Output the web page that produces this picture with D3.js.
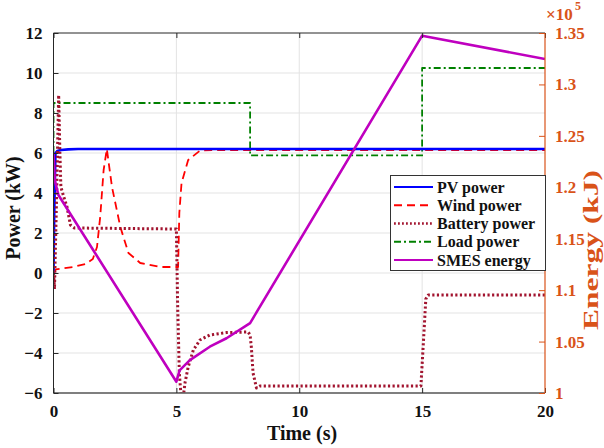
<!DOCTYPE html>
<html>
<head>
<meta charset="utf-8">
<script src="https://cdn.jsdelivr.net/npm/d3@7"></script>
<style>
  html, body { margin: 0; padding: 0; background: #fff; }
  svg text { font-family: "Liberation Serif", "Times New Roman", serif; font-weight: bold; }
</style>
</head>
<body>
<svg id="chart" width="604" height="448"></svg>
<script>
// ---- Data ----
const xTicks = [0, 5, 10, 15, 20];
const yTicksLeft = [-6, -4, -2, 0, 2, 4, 6, 8, 10, 12];
const yTicksRight = [1, 1.05, 1.1, 1.15, 1.2, 1.25, 1.3, 1.35];
const rightTickLabels = ["1", "1.05", "1.1", "1.15", "1.2", "1.25", "1.3", "1.35"];

const pvTime  = [0, 0.03, 0.08, 0.15, 0.3, 0.6, 1.0, 20];
const pvPower = [0, 3.0, 6.0, 6.1, 6.15, 6.18, 6.2, 6.2];

const windTime  = [0, 0.05, 0.1, 0.8, 1.3, 1.6, 1.77, 1.9, 2.04, 2.17, 2.38, 2.72, 3.05, 3.53, 4.34, 5.0, 5.07, 5.12, 5.21, 5.48, 5.96, 6.5, 20];
const windPower = [0, 0.1, 0.18, 0.3, 0.45, 0.7, 1.3, 2.8, 5.15, 6.2, 4.3, 2.3, 1.0, 0.5, 0.3, 0.3, 0.3, 3.0, 4.5, 5.65, 6.12, 6.15, 6.15];

const batTime  = [0, 0.04, 0.12, 0.21, 0.26, 0.3, 0.42, 0.55, 0.69, 0.85, 5.0, 5.05, 5.12, 5.2, 5.28, 5.35, 5.48, 5.69, 5.96, 6.36, 7.04, 7.92, 8.0, 8.05, 8.12, 8.26, 8.4, 14.95, 15.05, 15.15, 15.25, 20];
const batPower = [0, -0.8, 3.5, 8.9, 6.0, 4.3, 3.8, 3.3, 2.4, 2.25, 2.2, -1.5, -5.0, -6.3, -6.2, -5.5, -4.7, -3.85, -3.35, -3.1, -2.98, -2.95, -3.1, -3.7, -5.0, -5.75, -5.65, -5.65, -3.5, -1.3, -1.1, -1.1];

const loadTime  = [0, 0, 8, 8, 15, 15, 20];
const loadPower = [0, 8.5, 8.5, 5.88, 5.88, 10.25, 10.25];

const smesTime   = [0, 0.05, 0.2, 5.0, 5.13, 5.55, 6.36, 7.04, 8.0, 15.0, 20];
const smesEnergy = [1.233, 1.207, 1.1925, 1.011, 1.022, 1.032, 1.045, 1.0532, 1.068, 1.3474, 1.3247]; // x 10^5 kJ

const seriesNames = ["PV power", "Wind power", "Battery power", "Load power", "SMES energy"];

// ---- Layout ----
const svg = d3.select("#chart");
const L = 53.5, R = 545, T = 33, B = 393;
const x = d3.scaleLinear().domain([0, 20]).range([L, R]);
const yL = d3.scaleLinear().domain([-6, 12]).range([B, T]);
const yR = d3.scaleLinear().domain([1, 1.35]).range([B, T]);

const axisCol = "#262626";
const orange = "#d95319";

// grid
const grid = svg.append("g");
grid.selectAll("line.gx").data(xTicks.slice(1, -1)).join("line")
  .attr("x1", d => x(d)).attr("x2", d => x(d)).attr("y1", T).attr("y2", B)
  .attr("stroke", "#e3e3e3").attr("stroke-width", 1);
grid.selectAll("line.gy").data(yTicksLeft.slice(1, -1)).join("line")
  .attr("x1", L).attr("x2", R).attr("y1", d => yL(d)).attr("y2", d => yL(d))
  .attr("stroke", "#e3e3e3").attr("stroke-width", 1);

// clip
svg.append("clipPath").attr("id", "clip").append("rect")
  .attr("x", L).attr("y", T).attr("width", R - L).attr("height", B - T);

const plot = svg.append("g").attr("clip-path", "url(#clip)");
const mk = (ts, vs) => ts.map((t, i) => [t, vs[i]]);
const lineL = d3.line().x(d => x(d[0])).y(d => yL(d[1]));
const lineR = d3.line().x(d => x(d[0])).y(d => yR(d[1]));

const styles = {
  "PV power":      { color: "#0000ff", width: 2.6, dash: null },
  "Wind power":    { color: "#ff0000", width: 1.8, dash: "8,5" },
  "Battery power": { color: "#a2142f", width: 3.0, dash: "2.2,2.4" },
  "Load power":    { color: "#008000", width: 1.8, dash: "7,3,2,3" },
  "SMES energy":   { color: "#bf00bf", width: 2.6, dash: null }
};

function draw(data, gen, name) {
  const s = styles[name];
  plot.append("path").datum(data).attr("d", gen)
    .attr("fill", "none").attr("stroke", s.color).attr("stroke-width", s.width)
    .attr("stroke-dasharray", s.dash).attr("stroke-linejoin", "round");
}
draw(mk(loadTime, loadPower), lineL, "Load power");
draw(mk(windTime, windPower), lineL, "Wind power");
draw(mk(pvTime, pvPower), lineL, "PV power");
draw(mk(batTime, batPower), lineL, "Battery power");
draw(mk(smesTime, smesEnergy), lineR, "SMES energy");

// axes frame
svg.append("line").attr("x1", L).attr("x2", R).attr("y1", T).attr("y2", T).attr("stroke", axisCol).attr("stroke-width", 1);
svg.append("line").attr("x1", L).attr("x2", R).attr("y1", B).attr("y2", B).attr("stroke", "#555").attr("stroke-width", 1.6);
svg.append("line").attr("x1", L).attr("x2", L).attr("y1", T).attr("y2", B).attr("stroke", axisCol).attr("stroke-width", 1);

// bottom axis (ticks inward)
const xAxis = d3.axisBottom(x).tickValues(xTicks).tickSize(-5).tickPadding(12).tickFormat(d3.format("d"));
const gx = svg.append("g").attr("transform", `translate(0,${B})`).call(xAxis);
gx.select(".domain").remove();
gx.selectAll("line").attr("stroke", axisCol);
gx.selectAll("text").attr("font-size", 17).attr("fill", "#111").attr("font-family", "Liberation Serif");
// top ticks
const gxt = svg.append("g").attr("transform", `translate(0,${T})`).call(d3.axisTop(x).tickValues(xTicks).tickSize(-5).tickFormat(""));
gxt.select(".domain").remove();
gxt.selectAll("line").attr("stroke", axisCol);

// left axis
const yAxisL = d3.axisLeft(yL).tickValues(yTicksLeft).tickSize(-5).tickPadding(11).tickFormat(d3.format("d"));
const gyl = svg.append("g").attr("transform", `translate(${L},0)`).call(yAxisL);
gyl.select(".domain").remove();
gyl.selectAll("line").attr("stroke", axisCol);
gyl.selectAll("text").attr("font-size", 17).attr("fill", "#111").attr("font-family", "Liberation Serif");

// right axis
const yAxisR = d3.axisRight(yR).tickValues(yTicksRight).tickSize(-6).tickPadding(10)
  .tickFormat((d, i) => rightTickLabels[i]);
const gyr = svg.append("g").attr("transform", `translate(${R},0)`).call(yAxisR);
gyr.select(".domain").attr("stroke", orange).attr("stroke-width", 1.2).attr("d", `M0,${T}V${B}`);
gyr.selectAll("line").attr("stroke", orange);
gyr.selectAll("text").attr("font-size", 17).attr("fill", orange).attr("font-family", "Liberation Serif");

// exponent (×10^5)
svg.append("text").attr("x", 546).attr("y", 19.5).attr("fill", orange).attr("font-size", 17).text("×10");
svg.append("text").attr("x", 575).attr("y", 10).attr("fill", orange).attr("font-size", 12).text("5");

// axis labels
svg.append("text").attr("x", 302).attr("y", 440).attr("text-anchor", "middle")
  .attr("font-size", 20).attr("fill", "#111").text("Time (s)");
svg.append("text").attr("transform", "translate(20,208) rotate(-90)").attr("text-anchor", "middle")
  .attr("font-size", 20).attr("fill", "#111").text("Power (kW)");
svg.append("text").attr("transform", "translate(598,250) rotate(-90) scale(1.5,1)").attr("text-anchor", "middle")
  .attr("font-size", 21).attr("fill", orange).text("Energy (kJ)");

// legend
const lg = svg.append("g");
lg.append("rect").attr("x", 390.5).attr("y", 175.5).attr("width", 155).attr("height", 95)
  .attr("fill", "#fff").attr("stroke", "#333").attr("stroke-width", 1);
const rowY = d3.scalePoint().domain(seriesNames).range([187, 260]);
seriesNames.forEach(n => {
  const s = styles[n];
  lg.append("line").attr("x1", 394).attr("x2", 433).attr("y1", rowY(n)).attr("y2", rowY(n))
    .attr("stroke", s.color).attr("stroke-width", n === "Battery power" ? 2.4 : 1.8)
    .attr("stroke-dasharray", n === "Battery power" ? "1.8,2.2" : s.dash);
  lg.append("text").attr("x", 437).attr("y", rowY(n)).attr("dy", "0.35em")
    .attr("font-size", 16).attr("fill", "#111").text(n);
});
</script>
</body>
</html>
